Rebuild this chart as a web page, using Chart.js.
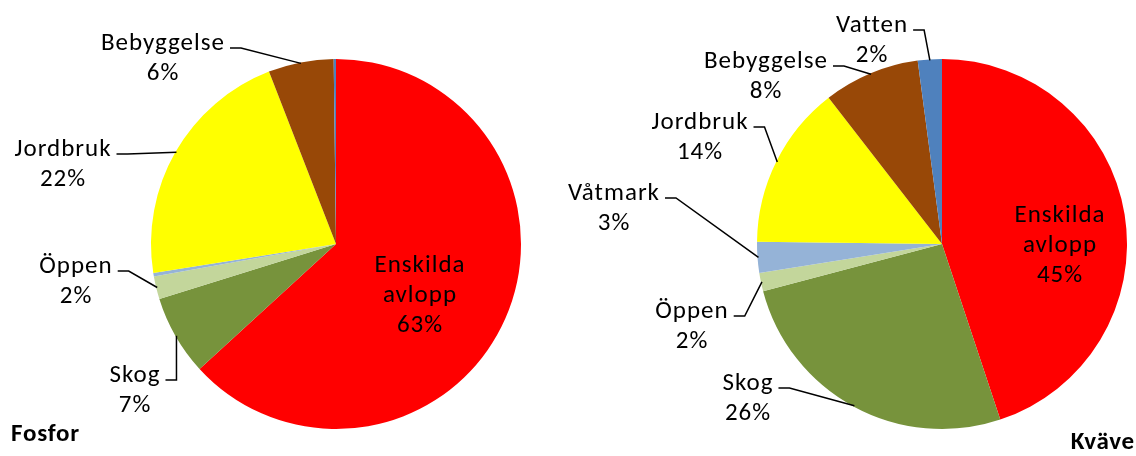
<!DOCTYPE html>
<html>
<head>
<meta charset="utf-8">
<script src="https://cdn.jsdelivr.net/npm/chart.js@4.4.1/dist/chart.umd.min.js"></script>
<style>
    html, body { margin: 0; padding: 0; background: #fff; }
    #wrap { position: relative; width: 1136px; height: 456px; overflow: hidden; }
    .pie-box { position: absolute; top: 0; width: 568px; height: 456px; }
    .title { position: absolute; font: bold 25px Carlito, Calibri, Lato, sans-serif; color: #000; line-height: 30px; letter-spacing: 0.8px; }
</style>
</head>
<body>
<div id="wrap">
    <div class="pie-box" style="left:0"><canvas id="fosforCanvas"></canvas></div>
    <div class="pie-box" style="left:568px"><canvas id="kvaveCanvas"></canvas></div>
    <div class="title" style="left:11px; top:418px">Fosfor</div>
    <div class="title" style="right:1px; top:426px">Kväve</div>
</div>
<script>
    // data
    var categories = ['Enskilda avlopp', 'Skog', 'Öppen', 'Våtmark', 'Jordbruk', 'Bebyggelse', 'Vatten'];
    var fosforValues = [63.2, 7.0, 2.0, 0.3, 21.6, 5.7, 0.2];
    var kvaveValues = [44.9, 26.0, 1.6, 2.7, 14.3, 8.4, 2.1];

    var sliceColors = ['#ff0000', '#77933c', '#c3d69b', '#95b3d7', '#ffff00', '#984807', '#4f81bd'];

    // label placement: [center x, first baseline y] in canvas px, null = no label
    var fosforLabelPos = [
        [420, 272, 'inside'],
        [135, 382],
        [76, 273],
        null,
        [63, 156],
        [163, 50],
        null
    ];
    var kvaveLabelPos = [
        [492, 222, 'inside'],
        [180, 390],
        [124, 318],
        [46, 200],
        [132, 129],
        [198, 68],
        [304, 32]
    ];

    var FONT = '25px Carlito, Calibri, Lato, sans-serif';
    var LINE_H = 30;

    var labelPlugin = {
        id: 'pieLabels',
        afterDraw: function (chart, args, opts) {
            var ctx = chart.ctx;
            var meta = chart.getDatasetMeta(0);
            var values = chart.data.datasets[0].data;
            var total = values.reduce(function (a, b) { return a + b; }, 0);
            var positions = opts.positions;
            ctx.save();
            ctx.font = FONT;
            ctx.letterSpacing = '1px';
            ctx.fillStyle = '#000';
            ctx.strokeStyle = '#000';
            ctx.lineWidth = 1.5;
            ctx.textAlign = 'center';
            ctx.textBaseline = 'alphabetic';
            meta.data.forEach(function (arc, i) {
                var pos = positions[i];
                if (!pos) return;
                var pct = Math.round(values[i] / total * 100) + '%';
                var lines;
                if (pos[2] === 'inside') {
                    lines = chart.data.labels[i].split(' ').concat([pct]);
                } else {
                    lines = [chart.data.labels[i], pct];
                }
                lines.forEach(function (t, k) {
                    ctx.fillText(t, pos[0], pos[1] + k * LINE_H);
                });
                if (pos[2] === 'inside') return;

                // leader line: from text right edge, short elbow, then to the arc edge
                var w = ctx.measureText(lines[0]).width;
                var x0 = pos[0] + w / 2 + 5;
                var y0 = pos[1] - 2;
                var mid = (arc.startAngle + arc.endAngle) / 2;
                var r = arc.outerRadius - 1;
                var ex = arc.x + Math.cos(mid) * r;
                var ey = arc.y + Math.sin(mid) * r;
                ctx.beginPath();
                ctx.moveTo(x0, y0);
                ctx.lineTo(x0 + 11, y0);
                ctx.lineTo(ex, ey);
                ctx.stroke();
            });
            ctx.restore();
        }
    };

    function makePie(canvasId, values, positions, padding) {
        var ctx = document.getElementById(canvasId).getContext('2d');
        return new Chart(ctx, {
            type: 'pie',
            data: {
                labels: categories,
                datasets: [{
                    data: values,
                    backgroundColor: sliceColors,
                    borderWidth: 0
                }]
            },
            options: {
                responsive: true,
                maintainAspectRatio: false,
                animation: false,
                layout: { padding: padding },
                plugins: {
                    legend: { display: false },
                    tooltip: { enabled: false },
                    pieLabels: { positions: positions }
                }
            },
            plugins: [labelPlugin]
        });
    }

    window.myFosfor = makePie('fosforCanvas', fosforValues, fosforLabelPos,
        { left: 151, right: 47, top: 59, bottom: 27 });
    window.myKvave = makePie('kvaveCanvas', kvaveValues, kvaveLabelPos,
        { left: 189, right: 9, top: 59, bottom: 27 });
</script>
</body>
</html>
